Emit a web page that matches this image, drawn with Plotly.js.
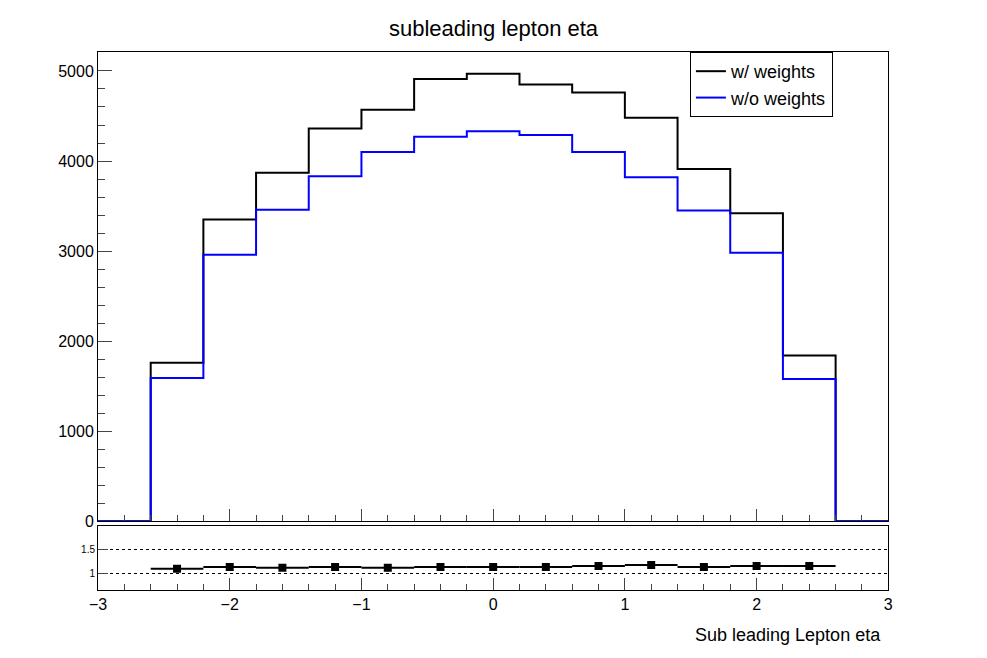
<!DOCTYPE html>
<html>
<head>
<script src="https://cdn.plot.ly/plotly-3.0.1.min.js"></script>
<style>body{margin:0}</style>
</head>
<body>
<div id="graph" style="width:987px;height:658px"></div>
<script>
// bin edges of the eta histogram
var edges = [-3, -2.6, -2.2, -1.8, -1.4, -1.0, -0.6, -0.2, 0.2, 0.6, 1.0, 1.4, 1.8, 2.2, 2.6, 3];
var withWeights = [0, 1760, 3350, 3870, 4360, 4570, 4910, 4970, 4850, 4760, 4480, 3910, 3420, 1840, 0];
var noWeights = [0, 1590, 2960, 3460, 3830, 4100, 4270, 4330, 4290, 4100, 3820, 3450, 2980, 1580, 0];
var ratioX = [-2.4, -2.0, -1.6, -1.2, -0.8, -0.4, 0, 0.4, 0.8, 1.2, 1.6, 2.0, 2.4];
var ratioY = [1.10, 1.14, 1.12, 1.14, 1.12, 1.14, 1.14, 1.14, 1.16, 1.18, 1.14, 1.16, 1.16];

function stepY(v) { return v.concat([v[v.length - 1]]); }

var font = {family: "Liberation Sans, Arial", size: 16, color: "#000"};

var data = [
  {x: edges, y: stepY(withWeights), type: "scatter", mode: "lines", line: {shape: "hv", color: "#000", width: 2}, name: "w/ weights"},
  {x: edges, y: stepY(noWeights), type: "scatter", mode: "lines", line: {shape: "hv", color: "#0000ff", width: 2}, name: "w/o weights"},
  {x: ratioX, y: ratioY, type: "scatter", mode: "markers", xaxis: "x2", yaxis: "y2", showlegend: false,
   marker: {symbol: "square", size: 8, color: "#000"},
   error_x: {type: "constant", value: 0.2, color: "#000", thickness: 2, width: 0}}
];

var axisBase = {showline: true, mirror: true, linecolor: "#000", linewidth: 1, ticks: "inside",
  zeroline: false, showgrid: false, tickfont: font};

var layout = {
  width: 987, height: 658,
  margin: {l: 0, r: 0, t: 0, b: 0},
  paper_bgcolor: "#fff", plot_bgcolor: "#fff",
  title: {text: "subleading lepton eta", font: {family: "Liberation Sans, Arial", size: 22, color: "#000"}, x: 0.5, y: 0.968},
  showlegend: true,
  legend: {x: 0.699, y: 0.921, xanchor: "left", yanchor: "top", bordercolor: "#000", borderwidth: 1,
    font: {family: "Liberation Sans, Arial", size: 18, color: "#000"}, bgcolor: "#fff",
    tracegroupgap: 0, itemwidth: 30},
  annotations: [{text: "Sub leading Lepton eta", xref: "paper", yref: "paper", x: 0.895, y: 0.035,
    xanchor: "right", yanchor: "middle", showarrow: false, font: {family: "Liberation Sans, Arial", size: 18, color: "#000"}}],
  xaxis: Object.assign({}, axisBase, {domain: [0.0993, 0.9], range: [-3, 3], dtick: 1, ticklen: 12,
    showticklabels: false, minor: {dtick: 0.2, ticklen: 6, ticks: "inside"}}),
  yaxis: Object.assign({}, axisBase, {domain: [0.208, 0.921], range: [0, 5211], dtick: 1000, ticklen: 14,
    minor: {dtick: 200, ticklen: 7, ticks: "inside"}}),
  xaxis2: Object.assign({}, axisBase, {domain: [0.0993, 0.9], range: [-3, 3], dtick: 1, ticklen: 12, anchor: "y2",
    minor: {dtick: 0.2, ticklen: 6, ticks: "inside"}}),
  yaxis2: Object.assign({}, axisBase, {domain: [0.103, 0.2006], range: [0.65, 2], anchor: "x2",
    tickvals: [1, 1.5], ticktext: ["1", "1.5"], ticklen: 10, tickfont: {family: "Liberation Sans, Arial", size: 10, color: "#000"},
    showgrid: true, gridcolor: "#000", griddash: "dot", gridwidth: 1})
};

Plotly.newPlot("graph", data, layout, {displayModeBar: false}).then(function () {
  // legend sits a little higher in the reference
  var leg = document.querySelector(".legend");
  if (leg) {
    var t = leg.getAttribute("transform").match(/translate\(([^,]+),\s*([^)]+)\)/);
    if (t) leg.setAttribute("transform", "translate(" + t[1] + "," + t[2] + ")");
  }
});
</script>
</body>
</html>
